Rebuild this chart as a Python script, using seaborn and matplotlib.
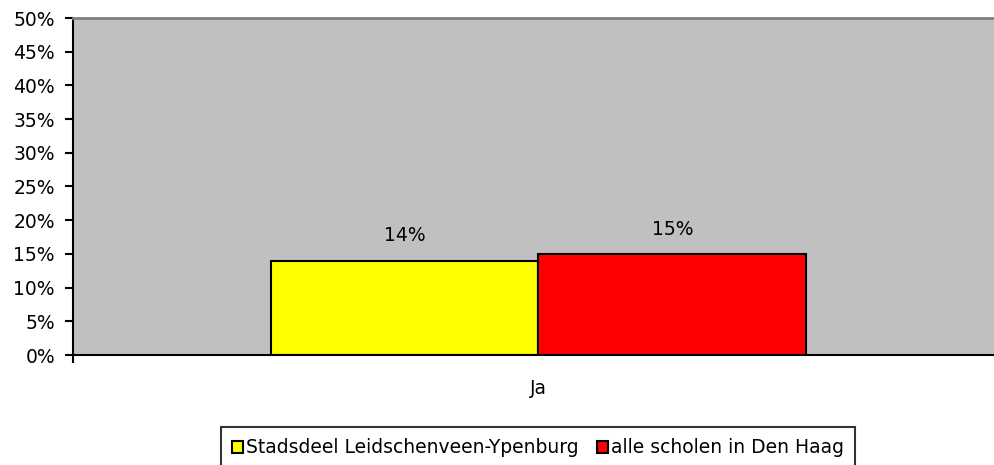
import pandas as pd
import matplotlib
matplotlib.use("Agg")
import matplotlib.pyplot as plt
import seaborn as sns
from matplotlib.ticker import PercentFormatter, FixedLocator

categories = ["Ja"]
series = ["Stadsdeel Leidschenveen-Ypenburg", "alle scholen in Den Haag"]
values = [14, 15]
colors = ["#FFFF00", "#FF0000"]

df = pd.DataFrame({
    "cat": categories * len(series),
    "group": series,
    "pct": values,
})

sns.set_theme(style="white")
plt.rcParams['font.family'] = ['DejaVu Sans']
plt.rcParams['text.color'] = 'black'
plt.rcParams['xtick.color'] = 'black'
plt.rcParams['ytick.color'] = 'black'

fs = 13.5

fig = plt.figure(figsize=(9.95, 4.65), dpi=100)
ax = fig.add_axes([73 / 995, 1 - 355 / 465, (1004 - 73) / 995, (355 - 18) / 465])
ax.set_facecolor("#C0C0C0")

sns.barplot(data=df, x="cat", y="pct", hue="group", palette=colors,
            width=0.575, edgecolor="black", linewidth=1.5, ax=ax,
            legend=True, saturation=1)

for cont in ax.containers:
    ax.bar_label(cont, labels=[f"{v:.0f}%" for v in cont.datavalues],
                 padding=11, fontsize=fs, color="black")

ax.set_ylim(0, 50)
ax.set_xlim(-0.5, 0.5)
ax.yaxis.set_major_locator(FixedLocator(range(0, 51, 5)))
ax.yaxis.set_major_formatter(PercentFormatter(decimals=0))
ax.set_xlabel("")
ax.set_ylabel("")
ax.tick_params(axis="y", left=True, length=6, width=1.5, color="black",
               labelsize=fs, pad=7)
ax.tick_params(axis="x", bottom=False, labelsize=fs, pad=11)
ax.xaxis.set_minor_locator(FixedLocator([-0.5]))
ax.tick_params(axis="x", which="minor", bottom=True, length=6, width=1.5,
               color="black")

for s in ["left", "bottom"]:
    ax.spines[s].set_color("black")
    ax.spines[s].set_linewidth(1.5)
ax.spines["top"].set_color("#808080")
ax.spines["top"].set_linewidth(2)
ax.spines["right"].set_visible(False)

leg = ax.legend(loc="upper center", bbox_to_anchor=(538 / 995, 1 - 427 / 465),
                bbox_transform=fig.transFigure, ncol=2, frameon=True,
                fancybox=False, edgecolor="black", fontsize=fs,
                handlelength=0.6, handleheight=0.6, handletextpad=0.15,
                columnspacing=0.95, borderpad=0.6, borderaxespad=0)
leg.get_frame().set_linewidth(1.5)
for h in leg.legend_handles:
    h.set_edgecolor("black")
    h.set_linewidth(1.5)

fig.savefig("out.png", dpi=100)
